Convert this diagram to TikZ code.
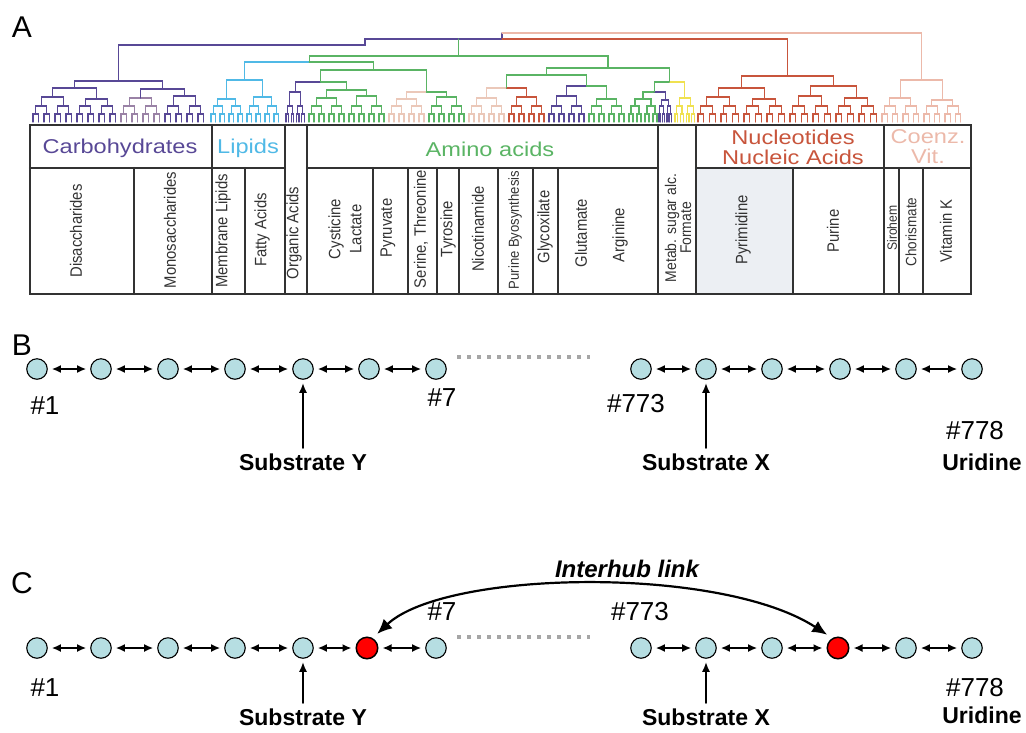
\documentclass[tikz,border=0pt]{standalone}
\usepackage{fontspec}
\setmainfont{Liberation Sans}
\newfontfamily\headfont[FakeStretch=1.18]{Liberation Sans}
\newfontfamily\cellfont[FakeStretch=0.9]{Liberation Sans}
\usetikzlibrary{positioning,arrows.meta,calc}

\definecolor{carbo}{RGB}{88,72,150}
\definecolor{lipid}{RGB}{80,185,230}
\definecolor{amino}{RGB}{90,180,100}
\definecolor{nucle}{RGB}{200,85,60}
\definecolor{coenz}{RGB}{236,185,170}
\definecolor{pale}{RGB}{235,200,185}
\definecolor{metab}{RGB}{240,225,80}
\definecolor{hubfill}{RGB}{182,222,226}
\definecolor{gridline}{RGB}{50,50,50}
\definecolor{pyrfill}{RGB}{236,239,243}

\tikzset{
  hub/.style={circle, draw=black, line width=1.1pt, fill=hubfill, minimum size=20.5pt, inner sep=0pt},
  keyhub/.style={hub, fill=red, line width=1.5pt, minimum size=21.5pt},
  rxn/.style={<->, >={Latex[length=9pt,width=8pt]}, line width=2pt, shorten <=4pt, shorten >=4pt},
  pointer/.style={->, >={Latex[length=10pt,width=8pt]}, line width=2pt, shorten >=3pt},
  gap/.style={gray!70, line width=4pt, dash pattern=on 4pt off 6pt, line cap=butt},
  idx/.style={font=\fontsize{26}{28}\selectfont, inner sep=0pt},
  subs/.style={font=\bfseries\fontsize{23}{25}\selectfont, inner sep=0pt},
  panel/.style={font=\fontsize{30}{32}\selectfont, inner sep=0pt},
  tree/.style={line width=1.1pt},
  grid/.style={draw=gridline, line width=2.2pt},
  group/.style={font=\headfont\fontsize{20}{20}\selectfont, inner sep=0pt, align=center},
  cell/.style={font=\cellfont\fontsize{16.5}{21}\selectfont, text=black!80, rotate=90, inner sep=0pt, align=center},
}

% eight leaves: #1 first leaf, #2 spacing, #3 colour, #4 height of the top bar
\newcommand{\leafblock}[4]{
  \foreach \k in {0,...,3}
    \draw[tree,#3] ({#1+2*\k*#2},122) |- ({#1+(2*\k+1)*#2},114) -- ++(0,8);
  \foreach \k in {0,1}
    \draw[tree,#3] ({#1+(4*\k+0.5)*#2},114) |- ({#1+(4*\k+2.5)*#2},106) -- ++(0,8);
  \draw[tree,#3] ({#1+1.5*#2},106) |- ({#1+5.5*#2},#4) -- ({#1+5.5*#2},106);
}
% join two tops (#1,#2) and (#3,#4) at height #5, colours #6 and #7
\newcommand{\merge}[7]{
  \draw[tree,#6] (#1,#2) |- ({(#1+#3)/2},#5);
  \draw[tree,#7] ({(#1+#3)/2},#5) -| (#3,#4);
}

\begin{document}
\begin{tikzpicture}[x=1pt, y=-1pt, line cap=round]
  \useasboundingbox (0,0) rectangle (1026,732);

  % Panel letters
  \node[panel] (pa) at (22,27) {A};
  \node[panel] (pb) at (22,345) {B};
  \node[panel] (pc) at (22,583) {C};

  % Dendrogram, leaves
  \leafblock{33}{5.5}{carbo}{97}
  \leafblock{77}{5.5}{carbo}{99}
  \leafblock{121}{5.5}{carbo!55!pale}{98}
  \leafblock{165}{5.5}{carbo}{96}
  \leafblock{211}{4.5}{lipid}{99}
  \leafblock{247}{4.5}{lipid}{97}
  \leafblock{286}{2.6}{carbo}{92}
  \leafblock{309}{5}{amino}{98}
  \leafblock{349}{5}{amino}{96}
  \leafblock{389}{5}{pale}{99}
  \leafblock{429}{5}{amino}{97}
  \leafblock{469}{5}{pale}{98}
  \leafblock{509}{5}{nucle}{97}
  \leafblock{549}{5}{carbo}{96}
  \leafblock{589}{5}{amino}{99}
  \leafblock{629}{4}{amino}{99}
  \leafblock{659}{1.8}{carbo}{100}
  \leafblock{675}{2.8}{metab}{98}
  \leafblock{698}{5.75}{nucle}{97}
  \leafblock{744}{5.75}{nucle}{99}
  \leafblock{790}{5.75}{nucle}{96}
  \leafblock{836}{5.75}{nucle}{98}
  \leafblock{882}{5.25}{coenz}{98}
  \leafblock{924}{5.25}{coenz}{100}

  % Dendrogram, inner branches
  \merge{52.25}{97}{96.25}{99}{88}{carbo}{carbo}
  \merge{140.25}{98}{184.25}{96}{89}{carbo}{carbo}
  \merge{74.25}{88}{162.25}{89}{81}{carbo}{carbo}
  \merge{226.75}{99}{262.75}{97}{80}{lipid}{lipid}
  \merge{326.5}{98}{366.5}{96}{90}{amino}{amino}
  \merge{295.1}{92}{346.5}{90}{82}{carbo}{amino}
  \merge{406.5}{99}{446.5}{97}{92}{pale}{amino}
  \merge{320.8}{82}{426.5}{92}{70}{amino}{amino}
  \merge{244.75}{80}{373.65}{70}{62}{lipid}{amino}
  \merge{486.5}{98}{526.5}{97}{88}{pale}{nucle}
  \merge{566.5}{96}{606.5}{99}{86}{carbo}{amino}
  \merge{506.5}{88}{586.5}{86}{75}{amino}{amino}
  \merge{643}{99}{665.3}{100}{92}{amino}{carbo}
  \merge{654.15}{92}{684.8}{98}{82}{amino}{metab}
  \merge{546.5}{75}{669.475}{82}{68}{amino}{amino}
  \merge{309.2}{62}{607.99}{68}{56}{amino}{amino}
  \merge{718.125}{97}{764.125}{99}{88}{nucle}{nucle}
  \merge{810.125}{96}{856.125}{98}{86}{nucle}{nucle}
  \merge{741.125}{88}{833.125}{86}{76}{nucle}{nucle}
  \merge{900.375}{98}{942.375}{100}{80}{coenz}{coenz}

  % Dendrogram, top links
  \draw[tree,carbo] (118.25,81) |- (365,45) -- (365,39) -- (502,39) -- (502,33);
  \draw[tree,amino] (458.6,56) -- (458.6,39);
  \draw[tree,nucle] (502,39) -| (787.125,76);
  \draw[tree,coenz] (502,33) -| (921.375,80);

  % Table of pathways
  \fill[pyrfill] (696,168) rectangle (793,294);
  \draw[grid] (30,125) rectangle (971,294);
  \draw[grid] (30,168) -- (285,168) (307,168) -- (658,168) (696,168) -- (971,168);
  \foreach \x in {212,285,307,658,696,884}
    \draw[grid] (\x,125) -- (\x,294);
  \foreach \x in {134,245,373,408,437,459,498,533,558,793,899,923}
    \draw[grid] (\x,168) -- (\x,294);

  % Group headers
  \node[group,text=carbo] (carbs) at (120,148) {Carbohydrates};
  \node[group,text=lipid] (lipids) at (248,148) {Lipids};
  \node[group,text=amino] (aminos) at (490,149) {Amino acids};
  \node[group,text=nucle] (nucs) at (793,147) {Nucleotides\\Nucleic Acids};
  \node[group,text=coenz] (coenzs) at (928,147) {Coenz.\\Vit.};

  % Pathway cells
  \node[cell] (disac) at (76,231) {Disaccharides};
  \node[cell] (monos) at (170,230) {Monosaccharides};
  \node[cell] (membr) at (223,231) {Membrane Lipids};
  \node[cell] (fatty) at (262,230) {Fatty Acids};
  \node[cell] (organ) at (294,233) {Organic Acids};
  \node[cell] (cysti) at (345,229) {Cysticine\\Lactate};
  \node[cell] (pyruv) at (388,228) {Pyruvate};
  \node[cell] (serin) at (421,229) {Serine, Threonine};
  \node[cell] (tyros) at (448,229) {Tyrosine};
  \node[cell] (nicot) at (478,229) {Nicotinamide};
  \node[cell,font=\cellfont\fontsize{14.5}{16}\selectfont] (purbi) at (515,230) {Purine Byosynthesis};
  \node[cell] (glyco) at (545,227) {Glycoxilate};
  \node[cell] (gluta) at (581,233) {Glutamate};
  \node[cell] (argin) at (620,235) {Arginine};
  \node[cell,font=\cellfont\fontsize{15.5}{15}\selectfont] (metab) at (678,228) {Metab. sugar alc.\\Formate};
  \node[cell] (pyrim) at (743,230) {Pyrimidine};
  \node[cell] (purin) at (833,231) {Purine};
  \node[cell,font=\cellfont\fontsize{13.5}{15}\selectfont] (siroh) at (892,228) {Sirohem};
  \node[cell,font=\cellfont\fontsize{15}{15}\selectfont] (choris) at (911,232) {Chorismate};
  \node[cell] (vitk) at (946,231) {Vitamin K};

  % Panel B: chains of hubs
  \foreach \x [count=\i] in {37,101,168,235,303,369,436}
    \node[hub] (bl\i) at (\x,369) {};
  \foreach \x [count=\i] in {641,706,772,840,906,972}
    \node[hub] (br\i) at (\x,369) {};
  \foreach \i/\j in {1/2,2/3,3/4,4/5,5/6,6/7}
    \draw[rxn] (bl\i) -- (bl\j);
  \foreach \i/\j in {1/2,2/3,3/4,4/5,5/6}
    \draw[rxn] (br\i) -- (br\j);
  \coordinate (bgapl) at (457,357);
  \coordinate (bgapr) at (590,357);
  \draw[gap] (bgapl) -- (bgapr);
  \node[idx] (bfirst) at (45,406) {\#1};
  \node[idx] (bseven) at (442,398) {\#7};
  \node[idx] (bsevtt) at (636,404) {\#773};
  \node[idx] (blast) at (975,431) {\#778};
  \node[subs] (buri) at (982,462) {Uridine};
  \node[subs, below=74pt of bl5] (bsubY) {Substrate Y};
  \node[subs, below=74pt of br2] (bsubX) {Substrate X};
  \draw[pointer] ([yshift=6pt]bsubY.north) -- (bl5);
  \draw[pointer] ([yshift=6pt]bsubX.north) -- (br2);

  % Panel C: chains with the interhub link
  \foreach \x/\s [count=\i] in {37/hub,101/hub,168/hub,235/hub,303/hub,367/keyhub,436/hub}
    \node[\s] (cl\i) at (\x,648) {};
  \foreach \x/\s [count=\i] in {641/hub,706/hub,772/hub,838/keyhub,906/hub,972/hub}
    \node[\s] (cr\i) at (\x,648) {};
  \foreach \i/\j in {1/2,2/3,3/4,4/5,5/6,6/7}
    \draw[rxn] (cl\i) -- (cl\j);
  \foreach \i/\j in {1/2,2/3,3/4,4/5,5/6}
    \draw[rxn] (cr\i) -- (cr\j);
  \coordinate (cgapl) at (457,637);
  \coordinate (cgapr) at (590,637);
  \draw[gap] (cgapl) -- (cgapr);
  \node[idx] (cfirst) at (45,688) {\#1};
  \node[idx] (cseven) at (442,612) {\#7};
  \node[idx] (csevtt) at (640,612) {\#773};
  \node[idx] (clast) at (975,688) {\#778};
  \node[subs] (curi) at (982,715) {Uridine};
  \node[subs, below=50pt of cl5] (csubY) {Substrate Y};
  \node[subs, below=50pt of cr2] (csubX) {Substrate X};
  \draw[pointer] ([yshift=6pt]csubY.north) -- (cl5);
  \draw[pointer] ([yshift=6pt]csubX.north) -- (cr2);
  \draw[rxn, >={Latex[length=15pt,width=13pt]}, line width=2.2pt, shorten <=6pt, shorten >=6pt]
    (cl6.60) .. controls (445,570) and (720,565) .. (cr4.120);
  \node[subs, font=\bfseries\itshape\fontsize{24}{26}\selectfont] (hublink) at (627,569) {Interhub link};
\end{tikzpicture}
\end{document}
